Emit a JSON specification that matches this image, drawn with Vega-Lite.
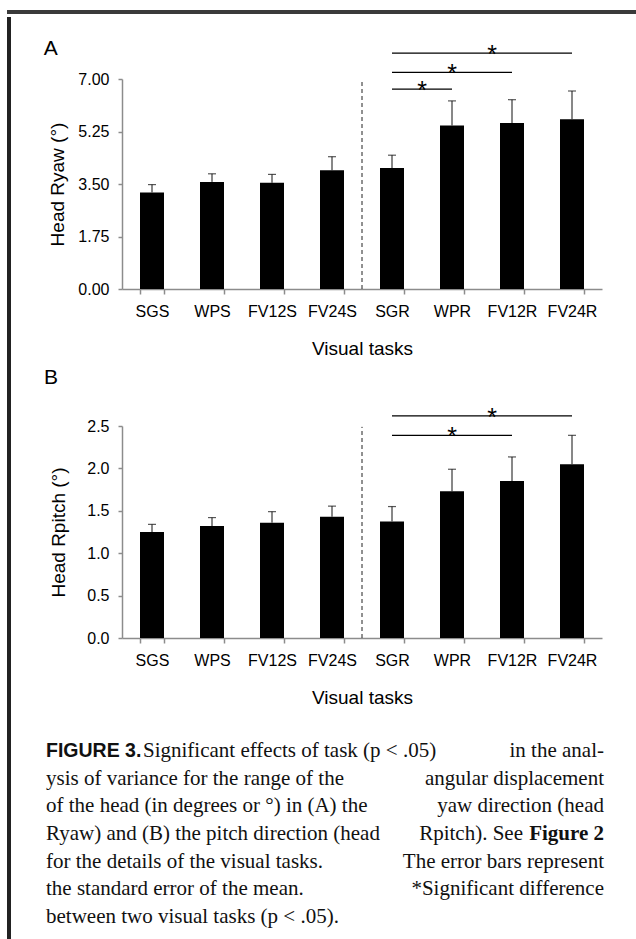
{
  "$schema": "https://vega.github.io/schema/vega-lite/v6.json",
  "padding": {"left": 7, "top": 6, "right": 0, "bottom": 0},
  "background": "white",
  "spacing": 0,
  "config": {
    "font": "Liberation Sans",
    "view": {"stroke": null},
    "axis": {
      "labelFont": "Liberation Sans", "labelFontSize": 16, "labelColor": "#000",
      "titleFont": "Liberation Sans", "titleFontSize": 19, "titleFontWeight": "normal", "titleColor": "#000",
      "domainColor": "#8c8c8c", "tickColor": "#8c8c8c", "domainWidth": 1.5, "tickWidth": 1.5, "grid": false
    },
    "title": {"font": "Liberation Sans", "fontSize": 21, "fontWeight": "normal", "anchor": "start", "frame": "bounds", "color": "#000"},
    "concat": {"spacing": 0}
  },
  "datasets": {
    "yaw": [
      {"task": "SGS", "mean": 3.22, "upper": 3.48},
      {"task": "WPS", "mean": 3.57, "upper": 3.84},
      {"task": "FV12S", "mean": 3.54, "upper": 3.82},
      {"task": "FV24S", "mean": 3.96, "upper": 4.41},
      {"task": "SGR", "mean": 4.03, "upper": 4.46},
      {"task": "WPR", "mean": 5.45, "upper": 6.27},
      {"task": "FV12R", "mean": 5.53, "upper": 6.31},
      {"task": "FV24R", "mean": 5.66, "upper": 6.60}
    ],
    "pitch": [
      {"task": "SGS", "mean": 1.25, "upper": 1.34},
      {"task": "WPS", "mean": 1.32, "upper": 1.42},
      {"task": "FV12S", "mean": 1.36, "upper": 1.49},
      {"task": "FV24S", "mean": 1.43, "upper": 1.555},
      {"task": "SGR", "mean": 1.375, "upper": 1.55},
      {"task": "WPR", "mean": 1.73, "upper": 1.99},
      {"task": "FV12R", "mean": 1.85, "upper": 2.135},
      {"task": "FV24R", "mean": 2.05, "upper": 2.39}
    ],
    "sigYaw": [
      {"from": "SGR", "to": "WPR", "level": 6.66},
      {"from": "SGR", "to": "FV12R", "level": 7.22},
      {"from": "SGR", "to": "FV24R", "level": 7.86}
    ],
    "sigPitch": [
      {"from": "SGR", "to": "FV12R", "level": 2.39},
      {"from": "SGR", "to": "FV24R", "level": 2.62}
    ],
    "caption": [
      {"line": 1, "lead": "FIGURE 3.", "left": "Significant effects of task (p < .05)", "right": "in the anal-"},
      {"line": 2, "left": "ysis of variance for the range of the", "right": "angular displacement"},
      {"line": 3, "left": "of the head (in degrees or °) in (A) the", "right": "yaw direction (head"},
      {"line": 4, "left": "Ryaw) and (B) the pitch direction (head", "right": "Rpitch). See", "tail": "Figure 2"},
      {"line": 5, "left": "for the details of the visual tasks.", "right": "The error bars represent"},
      {"line": 6, "left": "the standard error of the mean.", "right": "*Significant difference"},
      {"line": 7, "left": "between two visual tasks (p < .05)."}
    ]
  },
  "vconcat": [
    {
      "width": 629, "height": 4,
      "view": {"fill": "#3a3a3a", "stroke": null},
      "data": {"values": [{}]},
      "mark": {"type": "text"},
      "encoding": {"text": {"value": ""}}
    },
    {
      "spacing": 32,
      "hconcat": [
        {
          "width": 4, "height": 935,
          "view": {"fill": "#222222", "stroke": null},
          "data": {"values": [{}]},
          "mark": {"type": "text"},
          "encoding": {"text": {"value": ""}}
        },
        {
          "spacing": 32,
          "vconcat": [
            {
              "spacing": 0,
              "vconcat": [
                {
                  "width": 10, "height": 21,
                  "data": {"values": [{}]},
                  "mark": {"type": "text"},
                  "encoding": {"text": {"value": ""}}
                },
                {
                  "spacing": 8,
                  "vconcat": [
                    {
                      "width": 480, "height": 210,
                      "title": {"text": "A", "offset": -16, "dx": -5},
                      "data": {"name": "yaw"},
                      "layer": [
                        {
                          "mark": {"type": "bar", "color": "#000"},
                          "encoding": {
                            "x": {"field": "task", "type": "nominal", "sort": null,
                                  "scale": {"domain": ["SGS","WPS","FV12S","FV24S","SGR","WPR","FV12R","FV24R"], "paddingInner": 0.6, "paddingOuter": 0.3},
                                  "axis": {"labelAngle": 0, "tickBand": "extent", "tickSize": 5, "labelPadding": 9, "titlePadding": 20},
                                  "title": "Visual tasks"},
                            "y": {"field": "mean", "type": "quantitative",
                                  "scale": {"domain": [0, 7], "nice": false, "zero": true},
                                  "axis": {"values": [0, 1.75, 3.5, 5.25, 7], "format": ".2f", "tickSize": 4, "labelPadding": 9, "minExtent": 44, "titlePadding": 10},
                                  "title": "Head Ryaw (°)"}
                          }
                        },
                        {
                          "mark": {"type": "rule", "color": "#111", "strokeWidth": 1},
                          "encoding": {
                            "x": {"field": "task", "type": "nominal"},
                            "y": {"field": "mean", "type": "quantitative"},
                            "y2": {"field": "upper"}
                          }
                        },
                        {
                          "mark": {"type": "tick", "orient": "horizontal", "size": 8, "thickness": 1.2, "color": "#111"},
                          "encoding": {
                            "x": {"field": "task", "type": "nominal"},
                            "y": {"field": "upper", "type": "quantitative"}
                          }
                        },
                        {
                          "data": {"values": [{"c": "SGR", "bottom": 0, "top": 6.91}]},
                          "mark": {"type": "rule", "color": "#222", "strokeWidth": 1, "strokeDash": [4, 3]},
                          "encoding": {
                            "x": {"field": "c", "type": "nominal", "bandPosition": -0.75},
                            "y": {"field": "bottom", "type": "quantitative"},
                            "y2": {"field": "top"}
                          }
                        },
                        {
                          "data": {"name": "sigYaw"},
                          "mark": {"type": "rule", "color": "#000", "strokeWidth": 1.2},
                          "encoding": {
                            "x": {"field": "from", "type": "nominal"},
                            "x2": {"field": "to"},
                            "y": {"field": "level", "type": "quantitative"}
                          }
                        },
                        {
                          "data": {"name": "sigYaw"},
                          "transform": [{"filter": "datum.to === 'WPR'"}],
                          "mark": {"type": "text", "text": "*", "fontSize": 25, "baseline": "alphabetic", "dy": 10},
                          "encoding": {
                            "x": {"datum": "WPR", "type": "nominal", "bandPosition": -0.75},
                            "y": {"field": "level", "type": "quantitative"}
                          }
                        },
                        {
                          "data": {"name": "sigYaw"},
                          "transform": [{"filter": "datum.to === 'FV12R'"}],
                          "mark": {"type": "text", "text": "*", "fontSize": 25, "baseline": "alphabetic", "dy": 10},
                          "encoding": {
                            "x": {"datum": "WPR", "type": "nominal", "bandPosition": 0.5},
                            "y": {"field": "level", "type": "quantitative"}
                          }
                        },
                        {
                          "data": {"name": "sigYaw"},
                          "transform": [{"filter": "datum.to === 'FV24R'"}],
                          "mark": {"type": "text", "text": "*", "fontSize": 25, "baseline": "alphabetic", "dy": 10},
                          "encoding": {
                            "x": {"datum": "FV12R", "type": "nominal", "bandPosition": -0.33},
                            "y": {"field": "level", "type": "quantitative"}
                          }
                        }
                      ]
                    },
                    {
                      "width": 480, "height": 212,
                      "title": {"text": "B", "offset": 18, "dx": -5},
                      "data": {"name": "pitch"},
                      "layer": [
                        {
                          "mark": {"type": "bar", "color": "#000"},
                          "encoding": {
                            "x": {"field": "task", "type": "nominal", "sort": null,
                                  "scale": {"domain": ["SGS","WPS","FV12S","FV24S","SGR","WPR","FV12R","FV24R"], "paddingInner": 0.6, "paddingOuter": 0.3},
                                  "axis": {"labelAngle": 0, "tickBand": "extent", "tickSize": 5, "labelPadding": 9, "titlePadding": 20},
                                  "title": "Visual tasks"},
                            "y": {"field": "mean", "type": "quantitative",
                                  "scale": {"domain": [0, 2.5], "nice": false, "zero": true},
                                  "axis": {"values": [0, 0.5, 1, 1.5, 2, 2.5], "format": ".1f", "tickSize": 4, "labelPadding": 9, "minExtent": 44, "titlePadding": 10},
                                  "title": "Head Rpitch (°)"}
                          }
                        },
                        {
                          "mark": {"type": "rule", "color": "#111", "strokeWidth": 1},
                          "encoding": {
                            "x": {"field": "task", "type": "nominal"},
                            "y": {"field": "mean", "type": "quantitative"},
                            "y2": {"field": "upper"}
                          }
                        },
                        {
                          "mark": {"type": "tick", "orient": "horizontal", "size": 8, "thickness": 1.2, "color": "#111"},
                          "encoding": {
                            "x": {"field": "task", "type": "nominal"},
                            "y": {"field": "upper", "type": "quantitative"}
                          }
                        },
                        {
                          "data": {"values": [{"c": "SGR", "bottom": 0, "top": 2.49}]},
                          "mark": {"type": "rule", "color": "#222", "strokeWidth": 1, "strokeDash": [4, 3]},
                          "encoding": {
                            "x": {"field": "c", "type": "nominal", "bandPosition": -0.75},
                            "y": {"field": "bottom", "type": "quantitative"},
                            "y2": {"field": "top"}
                          }
                        },
                        {
                          "data": {"name": "sigPitch"},
                          "mark": {"type": "rule", "color": "#000", "strokeWidth": 1.2},
                          "encoding": {
                            "x": {"field": "from", "type": "nominal"},
                            "x2": {"field": "to"},
                            "y": {"field": "level", "type": "quantitative"}
                          }
                        },
                        {
                          "data": {"name": "sigPitch"},
                          "transform": [{"filter": "datum.to === 'FV12R'"}],
                          "mark": {"type": "text", "text": "*", "fontSize": 25, "baseline": "alphabetic", "dy": 10},
                          "encoding": {
                            "x": {"datum": "WPR", "type": "nominal", "bandPosition": 0.5},
                            "y": {"field": "level", "type": "quantitative"}
                          }
                        },
                        {
                          "data": {"name": "sigPitch"},
                          "transform": [{"filter": "datum.to === 'FV24R'"}],
                          "mark": {"type": "text", "text": "*", "fontSize": 25, "baseline": "alphabetic", "dy": 10},
                          "encoding": {
                            "x": {"datum": "FV12R", "type": "nominal", "bandPosition": -0.33},
                            "y": {"field": "level", "type": "quantitative"}
                          }
                        }
                      ]
                    }
                  ]
                }
              ]
            },
            {
              "width": 482, "height": 194,
              "data": {"name": "caption"},
              "layer": [
                {
                  "transform": [{"filter": "datum.line !== 1"}],
                  "mark": {"type": "text", "font": "Liberation Serif", "fontSize": 21, "align": "left", "baseline": "alphabetic", "dx": -76, "color": "#111"},
                  "encoding": {
                    "x": {"datum": 0, "type": "quantitative", "scale": {"domain": [0, 1]}, "axis": null},
                    "y": {"field": "line", "type": "ordinal", "axis": null, "bandPosition": 0.8, "scale": {"paddingInner": 0, "paddingOuter": 0}},
                    "text": {"field": "left"}
                  }
                },
                {
                  "transform": [{"filter": "datum.line === 1"}],
                  "mark": {"type": "text", "font": "Liberation Serif", "fontSize": 21, "align": "left", "baseline": "alphabetic", "dx": 21, "color": "#111"},
                  "encoding": {
                    "x": {"datum": 0, "type": "quantitative", "axis": null},
                    "y": {"field": "line", "type": "ordinal", "axis": null, "bandPosition": 0.8},
                    "text": {"field": "left"}
                  }
                },
                {
                  "transform": [{"filter": "datum.line === 1"}],
                  "mark": {"type": "text", "font": "Liberation Sans", "fontWeight": "bold", "fontSize": 19.5, "align": "left", "baseline": "alphabetic", "dx": -76, "color": "#111"},
                  "encoding": {
                    "x": {"datum": 0, "type": "quantitative", "axis": null},
                    "y": {"field": "line", "type": "ordinal", "axis": null, "bandPosition": 0.8},
                    "text": {"field": "lead"}
                  }
                },
                {
                  "transform": [{"filter": "datum.line !== 4 && datum.line !== 7"}],
                  "mark": {"type": "text", "font": "Liberation Serif", "fontSize": 21, "align": "right", "baseline": "alphabetic", "color": "#111"},
                  "encoding": {
                    "x": {"datum": 1, "type": "quantitative", "axis": null},
                    "y": {"field": "line", "type": "ordinal", "axis": null, "bandPosition": 0.8},
                    "text": {"field": "right"}
                  }
                },
                {
                  "transform": [{"filter": "datum.line === 4"}],
                  "mark": {"type": "text", "font": "Liberation Serif", "fontSize": 21, "align": "right", "baseline": "alphabetic", "dx": -81, "color": "#111"},
                  "encoding": {
                    "x": {"datum": 1, "type": "quantitative", "axis": null},
                    "y": {"field": "line", "type": "ordinal", "axis": null, "bandPosition": 0.8},
                    "text": {"field": "right"}
                  }
                },
                {
                  "transform": [{"filter": "datum.line === 4"}],
                  "mark": {"type": "text", "font": "Liberation Serif", "fontWeight": "bold", "fontSize": 21, "align": "right", "baseline": "alphabetic", "color": "#111"},
                  "encoding": {
                    "x": {"datum": 1, "type": "quantitative", "axis": null},
                    "y": {"field": "line", "type": "ordinal", "axis": null, "bandPosition": 0.8},
                    "text": {"field": "tail"}
                  }
                }
              ]
            }
          ]
        }
      ]
    }
  ]
}
